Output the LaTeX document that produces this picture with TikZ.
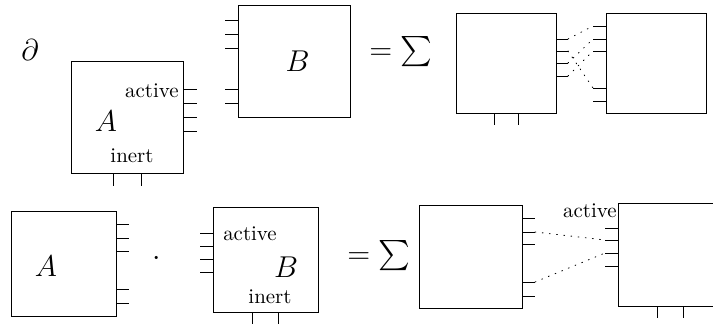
\documentclass[tikz,border=0pt]{standalone}
\usepackage{amsmath,amssymb}
\usetikzlibrary{calc}

\begin{document}
\begin{tikzpicture}[x=0.0168cm, y=-0.0168cm,
    box/.style={draw, inner sep=0pt, minimum width=#1*0.0168cm, minimum height=#1*0.0168cm},
    lbl/.style={inner sep=0pt},
    big/.style={inner sep=0pt, font=\Large},
    wire/.style={dash pattern=on 0.45pt off 3pt, line cap=round}]
  \useasboundingbox (0,0) rectangle (713,324);

  % Top row: derivative of a product
  \node[big] (dd) at (30,50) {$\partial$};

  \node[box=112] (a1) at (127,117.5) {};
  \node[big] (a1name) at (106,121) {$A$};
  \node[lbl, anchor=east] (a1act) at (179,91) {active};
  \node[lbl] (a1in) at (132,156) {inert};
  \foreach \i/\y in {1/89,2/103,3/117,4/131} {
    \coordinate (a1p\i) at (197,\y);
    \draw (a1.east |- a1p\i) -- (a1p\i);
  }
  \foreach \i/\x in {1/113.5,2/141} {
    \coordinate (a1q\i) at (\x,186);
    \draw (a1.south -| a1q\i) -- (a1q\i);
  }

  \node[box=112] (b1) at (294,61.5) {};
  \node[big] (b1name) at (297.5,61) {$B$};
  \foreach \i/\y in {1/20,2/34,3/48,4/89,5/103} {
    \coordinate (b1p\i) at (225,\y);
    \draw (b1.west |- b1p\i) -- (b1p\i);
  }

  \node[big] (eq1) at (401,52) {$=\sum$};

  \node[box=100] (c1) at (506,63.5) {};
  \foreach \i/\y in {1/39,2/51,3/63,4/76} {
    \coordinate (c1p\i) at (568,\y);
    \draw (c1.east |- c1p\i) -- (c1p\i);
  }
  \foreach \i/\x in {1/494,2/518} {
    \coordinate (c1q\i) at (\x,125);
    \draw (c1.south -| c1q\i) -- (c1q\i);
  }

  \node[box=100] (d1) at (656,63.5) {};
  \foreach \i/\y in {1/26,2/39,3/51,4/88,5/101} {
    \coordinate (d1p\i) at (593,\y);
    \draw (d1.west |- d1p\i) -- (d1p\i);
  }

  % Contractions
  \draw[wire] (c1p1) -- (d1p1);
  \draw[wire] (c1p2) -- (d1p4);
  \draw[wire] (c1p3) -- (d1p2);
  \draw[wire] (c1p4) -- (d1p3);

  % Bottom row: product
  \node[box=105] (a2) at (63.5,263.5) {};
  \node[big] (a2name) at (46,266) {$A$};
  \foreach \i/\y in {1/224,2/238,3/251,4/289,5/303} {
    \coordinate (a2p\i) at (129,\y);
    \draw (a2.east |- a2p\i) -- (a2p\i);
  }

  \node[big] (dot) at (157,259) {$\cdot$};

  \node[box=105] (b2) at (265.5,260) {};
  \node[big] (b2name) at (286,267) {$B$};
  \node[lbl] (b2act) at (250,234) {active};
  \node[lbl] (b2in) at (270,297) {inert};
  \foreach \i/\y in {1/233,2/246,3/259,4/272} {
    \coordinate (b2p\i) at (200,\y);
    \draw (b2.west |- b2p\i) -- (b2p\i);
  }
  \foreach \i/\x in {1/252,2/278} {
    \coordinate (b2q\i) at (\x,326);
    \draw (b2.south -| b2q\i) -- (b2q\i);
  }

  \node[big] (eq2) at (379,256) {$=\sum$};

  \node[box=103] (c2) at (470.5,257) {};
  \foreach \i/\y in {1/218,2/232,3/244,4/282,5/296} {
    \coordinate (c2p\i) at (535,\y);
    \draw (c2.east |- c2p\i) -- (c2p\i);
  }

  \node[box=103] (d2) at (669.5,254.5) {};
  \node[lbl, anchor=east] (d2act) at (617,211) {active};
  \foreach \i/\y in {1/228,2/240,3/253,4/266} {
    \coordinate (d2p\i) at (605,\y);
    \draw (d2.west |- d2p\i) -- (d2p\i);
  }
  \foreach \i/\x in {1/657,2/683} {
    \coordinate (d2q\i) at (\x,318);
    \draw (d2.south -| d2q\i) -- (d2q\i);
  }

  \draw[wire] (c2p2) -- (d2p2);
  \draw[wire] (c2p4) -- (d2p3);
\end{tikzpicture}
\end{document}
